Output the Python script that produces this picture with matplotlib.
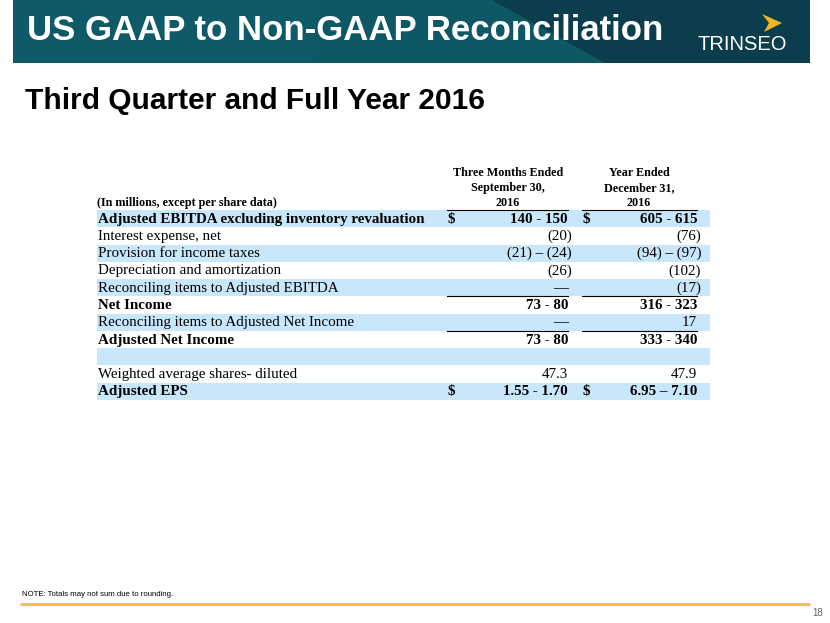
import matplotlib.pyplot as plt
from matplotlib.patches import Rectangle, Polygon

# table content
row_labels = [
    "Adjusted EBITDA excluding inventory revaluation",
    "Interest expense, net",
    "Provision for income taxes",
    "Depreciation and amortization",
    "Reconciling items to Adjusted EBITDA",
    "Net Income",
    "Reconciling items to Adjusted Net Income",
    "Adjusted Net Income",
    "",
    "Weighted average shares- diluted",
    "Adjusted EPS",
]
row_bold = [True, False, False, False, False, True, False, True, False, False, True]
row_dollar = [True, False, False, False, False, False, False, False, False, False, True]
q3_values = ["140 - 150", "(20)", "(21) \u2013 (24)", "(26)", "\u2014", "73 - 80",
             "\u2014", "73 - 80", "", "47.3", "1.55 - 1.70"]
fy_values = ["605 - 615", "(76)", "(94) \u2013 (97)", "(102)", "(17)", "316 - 323",
             "17", "333 - 340", "", "47.9", "6.95 \u2013 7.10"]
col_headers = ["Three Months Ended\nSeptember 30,\n2016", "Year Ended\nDecember 31,\n2016"]
rule_above_rows = [5, 7]

W, H = 830, 623
fig = plt.figure(figsize=(W / 100, H / 100), dpi=100)
ax = fig.add_axes([0, 0, 1, 1])
ax.set_xlim(0, W)
ax.set_ylim(H, 0)
ax.axis('off')

sans = 'Liberation Sans'
serif = 'Liberation Serif'

# header band
ax.add_patch(Rectangle((13, 0), 797, 63, color='#0b3d4c', lw=0))
ax.add_patch(Polygon([(13, 0), (492, 0), (605, 63), (13, 63)], closed=True,
                     color='#0e5765', lw=0))
ax.add_patch(Rectangle((13, 0), 300, 63, color='#0f5d6c', lw=0, alpha=0.5))
ax.text(27, 31, "US GAAP to Non-GAAP Reconciliation", color='white',
        fontsize=25, fontweight='bold', family=sans, va='center', ha='left')
# logo
ax.add_patch(Polygon([(762, 14), (782, 23), (764, 32), (769, 23)], closed=True,
                     color='#f2b623', lw=0))
ax.text(742, 45, "TRINSEO", color='white', fontsize=14.5,
        family=sans, ha='center', va='center')

ax.text(25, 101, "Third Quarter and Full Year 2016", color='black', fontsize=21.5,
        fontweight='bold', family=sans, va='center', ha='left')

# table geometry
top, bottom = 210, 400
row_h = (bottom - top) / len(row_labels)
band_x0, band_x1 = 97, 710
label_x = 98
dollar_x = [447, 582]
right_x = [568, 697]
col_centers = [508, 639]
rule_spans = [(447, 568), (582, 697)]

for i in range(len(row_labels)):
    y0 = top + i * row_h
    if i % 2 == 0:
        ax.add_patch(Rectangle((band_x0, y0), band_x1 - band_x0, row_h,
                               color='#c9e7fb', lw=0))
    yc = y0 + row_h / 2 + 0.5
    wt = 'bold' if row_bold[i] else 'normal'
    ax.text(label_x, yc, row_labels[i], fontsize=10.8, fontweight=wt,
            family=serif, va='center', ha='left')
    for j, vals in enumerate([q3_values, fy_values]):
        v = vals[i]
        xr = right_x[j] + (4 if v.endswith(')') else 0)
        ax.text(xr, yc, v, fontsize=10.8, fontweight=wt, family=serif,
                va='center', ha='right')
        if row_dollar[i]:
            ax.text(dollar_x[j], yc, "$", fontsize=10.8, fontweight='bold',
                    family=serif, va='center', ha='left')

# header rules and subtotal rules
for x0, x1 in rule_spans:
    ax.plot([x0, x1], [top, top], color='black', lw=0.8)
    for r in rule_above_rows:
        yy = top + r * row_h
        ax.plot([x0, x1], [yy, yy], color='black', lw=0.8)

for j, hdr in enumerate(col_headers):
    ax.text(col_centers[j], 188, hdr, fontsize=8.7, fontweight='bold', family=serif,
            ha='center', va='center', linespacing=1.3)
ax.text(97, 203, "(In millions, except per share data)", fontsize=8.7,
        fontweight='bold', family=serif, ha='left', va='center')

# footer
ax.text(22, 595, "NOTE: Totals may not sum due to rounding.", fontsize=5.6,
        family=sans, va='center', ha='left')
ax.plot([20, 810], [604, 604], color='#f7c13f', lw=2.2, solid_capstyle='butt')
ax.text(818, 613, "18", fontsize=7, color='#666666', family=sans,
        va='center', ha='center')

fig.savefig('out.png', dpi=100)
